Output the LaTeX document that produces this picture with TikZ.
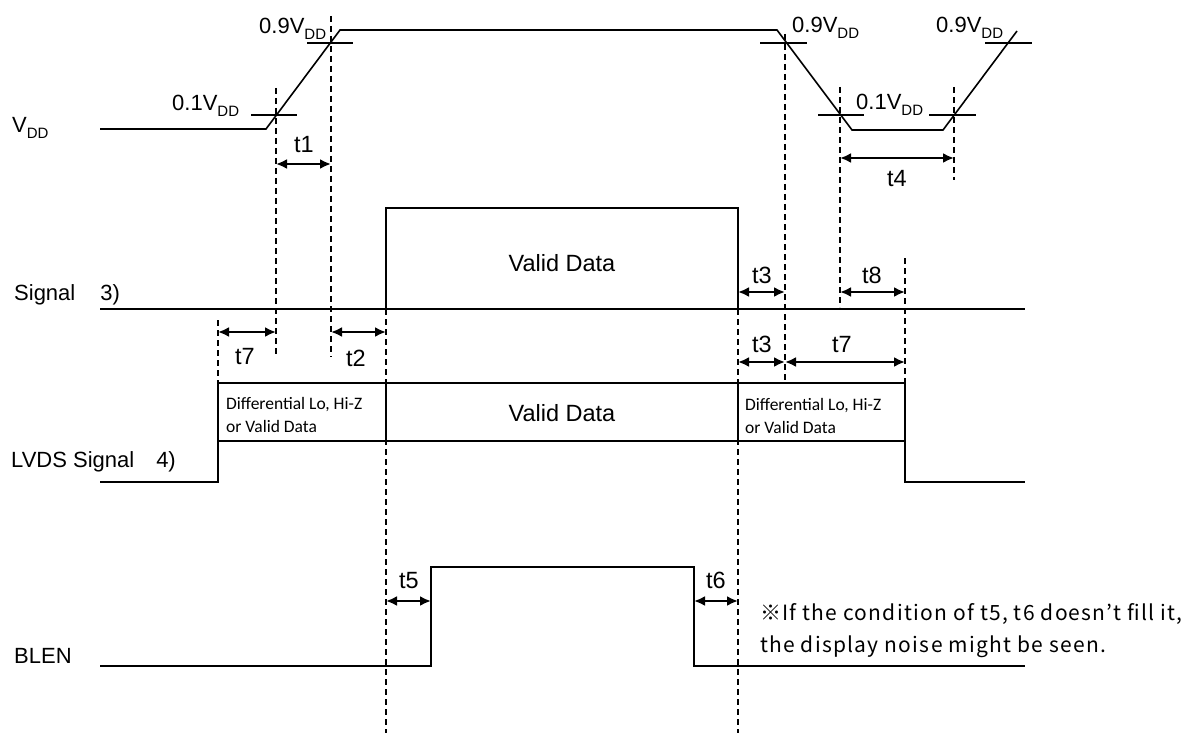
\documentclass[tikz,border=0pt]{standalone}
\usepackage{fontspec}
\setmainfont{Liberation Sans}
\newfontfamily\notefont[LetterSpace=6]{Noto Sans CJK JP}
\newfontfamily\cellfont{Carlito}
\usetikzlibrary{arrows.meta}
\newcommand{\Vdd}{V\raisebox{-6pt}{\fontsize{15}{15}\selectfont DD}}

\begin{document}
\begin{tikzpicture}[
    x=1pt, y=-1pt,
    wave/.style={line width=1.6pt},
    level/.style={line width=1.4pt},
    guide/.style={line width=1.2pt, dash pattern=on 6pt off 4pt},
    dim/.style={{Latex[length=11pt,width=10pt]}-{Latex[length=11pt,width=10pt]}, line width=2.2pt},
    lab/.style={anchor=base west, inner sep=0pt, font=\fontsize{22}{26}\selectfont},
    tlab/.style={anchor=base, inner sep=0pt, font=\fontsize{23.5}{26}\selectfont},
    data/.style={anchor=base, inner sep=0pt, font=\fontsize{23.5}{28}\selectfont},
    cell/.style={anchor=base west, inner sep=0pt, align=left, font=\cellfont\fontsize{17.5}{22.5}\selectfont},
    note/.style={anchor=base west, inner sep=0pt, align=left, font=\notefont\fontsize{21}{32}\selectfont}
]
\useasboundingbox (0,0) rectangle (1200,733);

% waveform corners
\coordinate (v0) at (100,129);
\coordinate (v1) at (266,129);
\coordinate (v2) at (340,30);
\coordinate (v3) at (777,30);
\coordinate (v4) at (852,130);
\coordinate (v5) at (943,130);
\coordinate (v6) at (1017,31);

% row names
\node[lab] (nvdd) at (12,133) {\Vdd};
\node[lab] (nsig) at (14,300) {Signal\hspace{25pt}3)};
\node[lab] (nlvds) at (11,467) {LVDS Signal\hspace{22pt}4)};
\node[lab] (nblen) at (14,663) {BLEN};

% dashed guides
\draw[guide] (276,88) -- (276,357);
\draw[guide] (331,16) -- (331,357);
\draw[guide] (218,320) -- (218,383);
\draw[guide] (386,309) -- (386,733);
\draw[guide] (738,309) -- (738,733);
\draw[guide] (785,34) -- (785,383);
\draw[guide] (840,87) -- (840,307);
\draw[guide] (954,87) -- (954,180);
\draw[guide] (905,258) -- (905,383);

% VDD
\draw[wave] (v0) -- (v1) -- (v2) -- (v3) -- (v4) -- (v5) -- (v6);
\draw[level] (251,115) -- (297,115);
\draw[level] (307,43) -- (353,43);
\draw[level] (760,43) -- (807,43);
\draw[level] (818,115) -- (864,115);
\draw[level] (929,115) -- (976,115);
\draw[level] (985,43) -- (1032,43);
\node[lab] (p1a) at (172,111) {0.1\Vdd};
\node[lab] (p9a) at (259,34) {0.9\Vdd};
\node[lab] (p9b) at (792,33) {0.9\Vdd};
\node[lab] (p1b) at (856,110) {0.1\Vdd};
\node[lab] (p9c) at (936,33) {0.9\Vdd};

% Signal
\draw[wave] (100,309) -- (1025,309);
\draw[wave] (386,309) rectangle (738,208);
\node[data] (vd1) at (562,271) {Valid Data};

% LVDS Signal
\draw[wave] (100,482) -- (218,482) -- (218,383) -- (905,383) -- (905,482) -- (1025,482);
\draw[wave] (218,441) -- (905,441);
\draw[wave] (386,383) -- (386,441) (738,383) -- (738,441);
\node[cell] (c1) at (226,432) {Differential Lo, Hi-Z\\or Valid Data};
\node[cell] (c2) at (745,433) {Differential Lo, Hi-Z\\or Valid Data};
\node[data] (vd2) at (562,421) {Valid Data};

% BLEN
\draw[wave] (100,666) -- (431,666) -- (431,567) -- (694,567) -- (694,666) -- (1025,666);

% timings
\draw[dim] (276,164) -- (331,164);
\node[tlab] (t1) at (304,153) {t1};
\draw[dim] (840,158) -- (954,158);
\node[tlab] (t4) at (897,186) {t4};
\draw[dim] (738,292) -- (785,292);
\node[tlab] (t3a) at (762,283) {t3};
\draw[dim] (840,292) -- (905,292);
\node[tlab] (t8) at (872,283) {t8};
\draw[dim] (218,332) -- (276,332);
\node[tlab] (t7a) at (245,364) {t7};
\draw[dim] (331,332) -- (386,332);
\node[tlab] (t2) at (356,366) {t2};
\draw[dim] (738,362) -- (785,362);
\node[tlab] (t3b) at (762,352) {t3};
\draw[dim] (785,362) -- (905,362);
\node[tlab] (t7b) at (842,352) {t7};
\draw[dim] (386,601) -- (431,601);
\node[tlab] (t5) at (409,588) {t5};
\draw[dim] (694,601) -- (738,601);
\node[tlab] (t6) at (716,588) {t6};

\node[note] (nt) at (760,652) {※If the condition of t5, t6 doesn’t fill it,\\the display noise might be seen.};
\end{tikzpicture}
\end{document}
